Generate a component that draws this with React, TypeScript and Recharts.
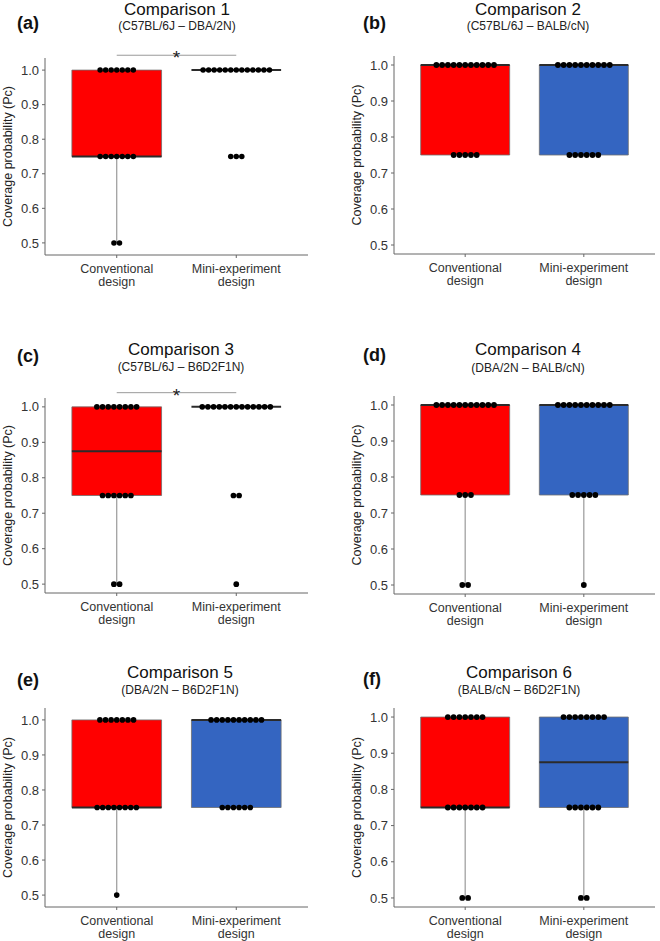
import React from "react";
import {
  ComposedChart,
  XAxis,
  YAxis,
  Scatter,
  ReferenceArea,
  ReferenceLine,
  ReferenceDot,
} from "recharts";

// --- data ---
const categories = ["Conventional design", "Mini-experiment design"];
const coverageLevels = [1.0, 0.75, 0.5];
const yTicks = [0.5, 0.6, 0.7, 0.8, 0.9, 1.0];
const panelTags = ["(a)", "(b)", "(c)", "(d)", "(e)", "(f)"];
const comparisonTitles = [
  "Comparison 1",
  "Comparison 2",
  "Comparison 3",
  "Comparison 4",
  "Comparison 5",
  "Comparison 6",
];
const strainPairs = [
  "(C57BL/6J – DBA/2N)",
  "(C57BL/6J – BALB/cN)",
  "(C57BL/6J – B6D2F1N)",
  "(DBA/2N – BALB/cN)",
  "(DBA/2N – B6D2F1N)",
  "(BALB/cN – B6D2F1N)",
];
// number of experiments at each coverage level (1.0, 0.75, 0.5)
const conventionalCounts = [
  [7, 7, 2],
  [11, 5, 0],
  [8, 6, 2],
  [11, 3, 2],
  [7, 8, 1],
  [7, 7, 2],
];
const miniCounts = [
  [13, 3, 0],
  [10, 6, 0],
  [13, 2, 1],
  [10, 5, 1],
  [10, 6, 0],
  [8, 6, 2],
];
const significant = [true, false, true, false, false, false];

// --- layout ---
const panels = [
  { left: 0, plotTop: 58, plotBottom: 255, axisX: 45, plotRight: 308, pad: 0.035, titleX: 177, titleY: 15, subY: 30, tagX: 17, tagY: 29, sigY: 1.043 },
  { left: 330, plotTop: 56, plotBottom: 254, axisX: 394, plotRight: 655, pad: 0.025, titleX: 528, titleY: 15, subY: 30, tagX: 363, tagY: 29, sigY: 1.04 },
  { left: 0, plotTop: 398, plotBottom: 593, axisX: 45, plotRight: 308, pad: 0.025, titleX: 181, titleY: 355, subY: 371, tagX: 17, tagY: 362, sigY: 1.04 },
  { left: 330, plotTop: 396, plotBottom: 594, axisX: 394, plotRight: 655, pad: 0.025, titleX: 528, titleY: 355, subY: 372, tagX: 363, tagY: 361, sigY: 1.04 },
  { left: 0, plotTop: 708, plotBottom: 907, axisX: 45, plotRight: 308, pad: 0.034, titleX: 180, titleY: 678, subY: 694, tagX: 17, tagY: 686, sigY: 1.04 },
  { left: 330, plotTop: 708, plotBottom: 907, axisX: 394, plotRight: 655, pad: 0.025, titleX: 519, titleY: 678, subY: 694, tagX: 363, tagY: 685, sigY: 1.04 },
];

const FONT = '"Liberation Sans", Arial, Helvetica, sans-serif';
const FILLS = ["#ff0000", "#3465c1"];
const BOX_W = 0.375;

const expand = (counts: number[]) =>
  counts.flatMap((n, i) => Array.from({ length: n }, () => coverageLevels[i]));

const quantile = (s: number[], p: number) => {
  const h = (s.length - 1) * p;
  const lo = Math.floor(h);
  const hi = Math.ceil(h);
  return s[lo] + (h - lo) * (s[hi] - s[lo]);
};

function boxStats(values: number[]) {
  const s = [...values].sort((a, b) => a - b);
  const q1 = quantile(s, 0.25);
  const med = quantile(s, 0.5);
  const q3 = quantile(s, 0.75);
  const iqr = q3 - q1;
  const lowW = Math.min(...s.filter((v) => v >= q1 - 1.5 * iqr));
  const highW = Math.max(...s.filter((v) => v <= q3 + 1.5 * iqr));
  return { q1, med, q3, lowW, highW };
}

function dotPoints(counts: number[], cat: number) {
  const pts: { x: number; y: number; k: number }[] = [];
  counts.forEach((n, i) => {
    for (let j = 0; j < n; j++) {
      pts.push({ x: cat, y: coverageLevels[i], k: j - (n - 1) / 2 });
    }
  });
  return pts;
}

const XTick = (props: any) => {
  const { x, y, payload } = props;
  const label = categories[payload.value - 1] || "";
  const [first, ...rest] = label.split(" ");
  return (
    <text x={x} y={y} textAnchor="middle" fontSize={12.5} fill="#333" fontFamily={FONT}>
      <tspan x={x} dy={13}>{first}</tspan>
      <tspan x={x} dy={12.5}>{rest.join(" ")}</tspan>
    </text>
  );
};

function Panel({ idx }: { idx: number }) {
  const p = panels[idx];
  const top = p.plotTop - 50;
  const height = p.plotBottom - top + 56;
  const domain: [number, number] = [0.5 - p.pad, 1.0 + p.pad];
  const ppu = (p.plotBottom - p.plotTop) / (domain[1] - domain[0]);
  const d = 0.016 * ppu;
  const groups = [conventionalCounts[idx], miniCounts[idx]];

  return (
    <div style={{ position: "absolute", left: p.left, top }}>
      <ComposedChart
        width={330}
        height={height}
        margin={{ top: 50, right: 330 - (p.plotRight - p.left), bottom: 22, left: 0 }}
      >
        <XAxis
          type="number"
          dataKey="x"
          domain={[0.4, 2.6]}
          ticks={[1, 2]}
          height={34}
          tickSize={3}
          tickMargin={2}
          axisLine={{ stroke: "#666" }}
          tickLine={{ stroke: "#666" }}
          tick={<XTick />}
        />
        <YAxis
          type="number"
          dataKey="y"
          domain={domain}
          ticks={yTicks}
          width={p.axisX - p.left}
          tickSize={3}
          tickMargin={3}
          tickFormatter={(v: number) => v.toFixed(1)}
          axisLine={{ stroke: "#666" }}
          tickLine={{ stroke: "#666" }}
          tick={{ fontSize: 13, fill: "#333", fontFamily: FONT }}
        />
        {groups.map((counts, g) => {
          const st = boxStats(expand(counts));
          const c = g + 1;
          return (
            <React.Fragment key={g}>
              <ReferenceArea
                x1={c - BOX_W}
                x2={c + BOX_W}
                y1={st.q1}
                y2={st.q3}
                fill={FILLS[g]}
                fillOpacity={1}
                stroke="#6e6e6e"
                strokeWidth={0.8}
              />
              {st.lowW < st.q1 && (
                <ReferenceLine
                  segment={[{ x: c, y: st.lowW }, { x: c, y: st.q1 }]}
                  stroke="#9a9a9a"
                  strokeWidth={1.2}
                />
              )}
              {st.highW > st.q3 && (
                <ReferenceLine
                  segment={[{ x: c, y: st.q3 }, { x: c, y: st.highW }]}
                  stroke="#9a9a9a"
                  strokeWidth={1.2}
                />
              )}
              <ReferenceLine
                segment={[{ x: c - BOX_W, y: st.med }, { x: c + BOX_W, y: st.med }]}
                stroke="#2b2b2b"
                strokeWidth={2}
              />
            </React.Fragment>
          );
        })}
        {significant[idx] && (
          <ReferenceLine
            segment={[{ x: 1, y: p.sigY }, { x: 2, y: p.sigY }]}
            stroke="#9a9a9a"
            strokeWidth={1}
            ifOverflow="visible"
          />
        )}
        {significant[idx] && (
          <ReferenceDot
            x={1.5}
            y={p.sigY}
            r={0}
            ifOverflow="visible"
            shape={(sp: any) => (
              <text x={sp.cx} y={sp.cy + 9} textAnchor="middle" fontSize={19} fill="#222" fontFamily={FONT}>
                *
              </text>
            )}
          />
        )}
        {groups.map((counts, g) => (
          <Scatter
            key={"s" + g}
            data={dotPoints(counts, g + 1)}
            isAnimationActive={false}
            shape={(sp: any) => (
              <circle cx={sp.cx + sp.payload.k * d} cy={sp.cy} r={d / 2} fill="#000" />
            )}
          />
        ))}
      </ComposedChart>
    </div>
  );
}

export default function App() {
  return (
    <div
      style={{
        position: "absolute",
        left: 0,
        top: 0,
        width: 660,
        height: 941,
        overflow: "hidden",
        background: "#fff",
        fontFamily: FONT,
      }}
    >
      {panels.map((_, i) => (
        <Panel key={i} idx={i} />
      ))}
      <svg
        width={660}
        height={941}
        style={{ position: "absolute", left: 0, top: 0, pointerEvents: "none" }}
      >
        {panels.map((p, i) => {
          const cy = (p.plotTop + p.plotBottom) / 2;
          const lx = p.left === 0 ? 8 : 357;
          return (
            <g key={i} fontFamily={FONT}>
              <text x={p.tagX} y={p.tagY} fontSize={18} fontWeight="bold" fill="#111">
                {panelTags[i]}
              </text>
              <text x={p.titleX} y={p.titleY} fontSize={17} textAnchor="middle" fill="#111">
                {comparisonTitles[i]}
              </text>
              <text x={p.titleX} y={p.subY} fontSize={12} textAnchor="middle" fill="#222">
                {strainPairs[i]}
              </text>
              <text
                x={lx}
                y={cy}
                fontSize={12.5}
                textAnchor="middle"
                dominantBaseline="central"
                fill="#222"
                transform={`rotate(-90 ${lx} ${cy})`}
              >
                Coverage probability (Pc)
              </text>
            </g>
          );
        })}
      </svg>
    </div>
  );
}
